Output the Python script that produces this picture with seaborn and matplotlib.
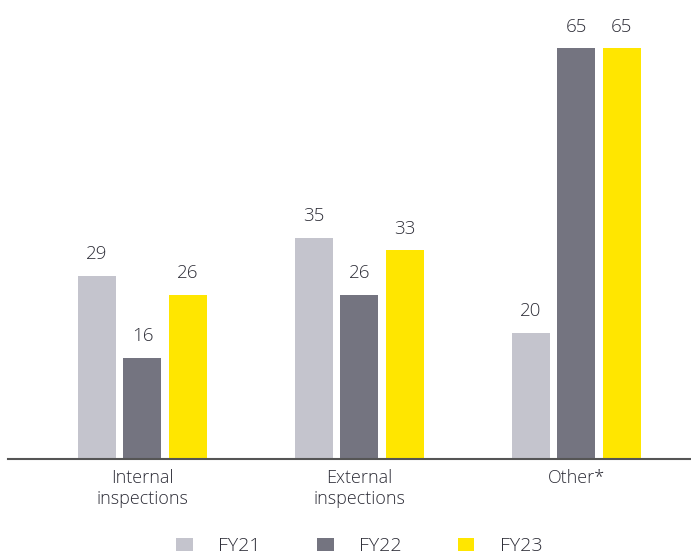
import matplotlib
matplotlib.use("Agg")
import matplotlib.pyplot as plt
import seaborn as sns
import pandas as pd
from matplotlib.patches import Patch

categories = ["Internal\ninspections", "External\ninspections", "Other*"]
series = ["FY21", "FY22", "FY23"]
fy21 = [29, 35, 20]
fy22 = [16, 26, 65]
fy23 = [26, 33, 65]
colors = ["#C4C4CD", "#747480", "#FFE600"]

rows = []
for s, vals in zip(series, [fy21, fy22, fy23]):
    for c, v in zip(categories, vals):
        rows.append({"category": c, "year": s, "value": v})
df = pd.DataFrame(rows)

sns.set_theme(style="white")
plt.rcParams["font.family"] = ["Open Sans", "DejaVu Sans"]
plt.rcParams["font.weight"] = "light"

fig = plt.figure(figsize=(6.91, 5.56), dpi=100)
ax = fig.add_axes([8/691, (556-459)/556, 1 - 8/691, (459-16.5)/556])

sns.barplot(data=df, x="category", y="value", hue="year", palette=colors,
            width=0.63, gap=0.167, ax=ax, legend=False, saturation=1,
            edgecolor="none", linewidth=0)

for cont in ax.containers:
    ax.bar_label(cont, padding=9, fontsize=13.5, color="#2E2E38", fontweight="light")

ax.set_xlim(-0.62, 2.53)
ax.set_ylim(0, 70)
ax.set_xlabel("")
ax.set_ylabel("")
ax.set_yticks([])
for sp in ["top", "right", "left"]:
    ax.spines[sp].set_visible(False)
ax.spines["bottom"].set_color("#555555")
ax.spines["bottom"].set_linewidth(1.5)
ax.tick_params(axis="x", length=0, pad=7, labelsize=13, labelcolor="#2E2E38")
for lab in ax.get_xticklabels():
    lab.set_linespacing(1.25)
    lab.set_fontweight("light")

handles = [Patch(facecolor=c, edgecolor="none") for c in colors]
leg = fig.legend(handles, series, loc="lower center", bbox_to_anchor=(0.52, -0.03),
                 ncol=3, frameon=False, fontsize=14, handlelength=0.85, handleheight=0.7,
                 handletextpad=1.3, columnspacing=2.9, labelcolor="#2E2E38")
for t in leg.get_texts():
    t.set_fontweight("light")

fig.savefig("out.png", dpi=100)
